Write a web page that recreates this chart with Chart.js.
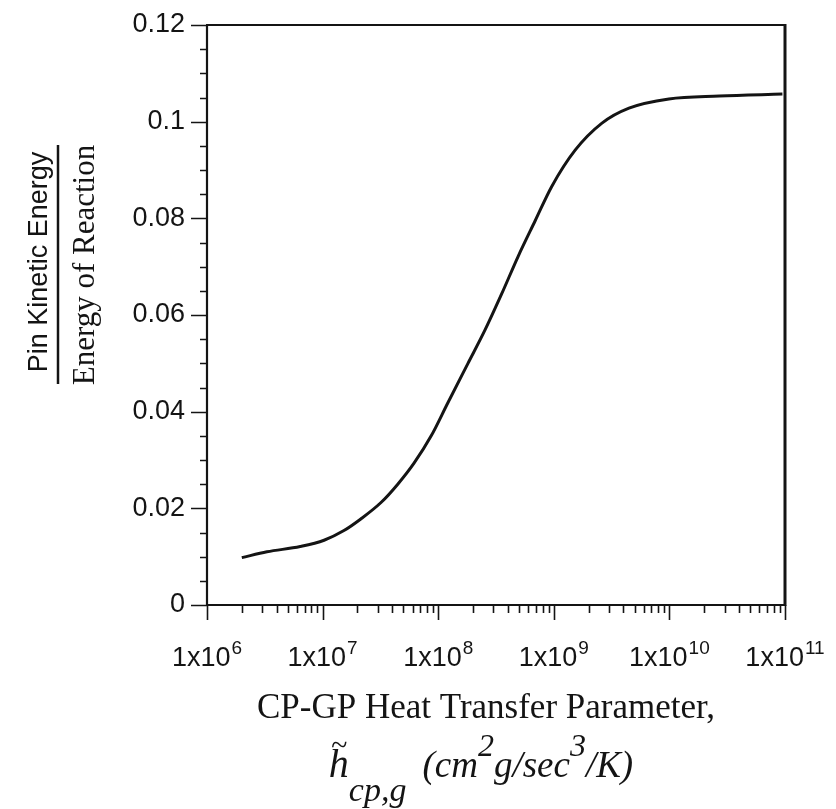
<!DOCTYPE html>
<html>
<head>
<meta charset="utf-8">
<script src="https://cdn.jsdelivr.net/npm/chart.js@4.4.1/dist/chart.umd.min.js"></script>
<style>
  html, body { margin: 0; padding: 0; background: #fff; }
  #wrap { width: 836px; height: 809px; position: relative; }
</style>
</head>
<body>
<div id="wrap"><canvas id="c"></canvas></div>
<script>
// ---- data ----
const xValues = [2.0e6, 3.3e6, 6.4e6, 1.03e7, 1.53e7, 2.14e7, 3.2e7, 4.47e7, 6.2e7, 8.7e7,
                 1.21e8, 1.81e8, 2.53e8, 3.53e8, 4.93e8, 6.9e8, 9.6e8, 1.53e9, 2.61e9, 4.47e9,
                 9.9e9, 2.7e10, 9.5e10];
const yValues = [0.0098, 0.0110, 0.0121, 0.0134, 0.0154, 0.0178, 0.0212, 0.0250, 0.0294, 0.0350,
                 0.0418, 0.0500, 0.0568, 0.0643, 0.0722, 0.0795, 0.0866, 0.0941, 0.0997, 0.1028,
                 0.1047, 0.1053, 0.1057];
const xTickExponents = [6, 7, 8, 9, 10, 11];
const xTickBase = "1x10";
const yMin = 0, yMax = 0.12, yStep = 0.02, yMinorStep = 0.005;
const xMin = 1e6, xMax = 1e11;
const yTitleTop = "Pin Kinetic Energy";
const yTitleBottom = "Energy of Reaction";
const xTitleLine1 = "CP-GP Heat Transfer Parameter,";

const SANS = '"Liberation Sans", Arial, Helvetica, sans-serif';
const SERIF = '"Liberation Serif", "Times New Roman", serif';
const INK = '#141414';

const points = xValues.map((x, i) => ({ x: x, y: yValues[i] }));

const decorPlugin = {
  id: 'decor',
  afterDraw(chart) {
    const ctx = chart.ctx;
    const a = chart.chartArea;
    const xs = chart.scales.x, ys = chart.scales.y;
    ctx.save();
    ctx.strokeStyle = INK;
    ctx.fillStyle = INK;
    ctx.lineCap = 'butt';

    // frame
    ctx.lineWidth = 2.2;
    ctx.beginPath();
    ctx.moveTo(a.left, a.top); ctx.lineTo(a.left, a.bottom);
    ctx.moveTo(a.left - 1, a.bottom); ctx.lineTo(a.right, a.bottom);
    ctx.moveTo(a.left - 1, a.top); ctx.lineTo(a.right, a.top);
    ctx.stroke();
    ctx.lineWidth = 3;
    ctx.beginPath();
    ctx.moveTo(a.right, a.top - 1); ctx.lineTo(a.right, a.bottom + 1);
    ctx.stroke();

    // y ticks (outside, left)
    ctx.lineWidth = 1.6;
    const nMinor = Math.round((yMax - yMin) / yMinorStep);
    const perMajor = Math.round(yStep / yMinorStep);
    ctx.beginPath();
    for (let i = 0; i <= nMinor; i++) {
      const v = yMin + i * yMinorStep;
      const py = Math.round(ys.getPixelForValue(v)) + 0.5;
      const len = (i % perMajor === 0) ? 16 : 7;
      ctx.moveTo(a.left - len, py); ctx.lineTo(a.left, py);
    }
    ctx.stroke();

    // x ticks (outside, below)
    ctx.beginPath();
    const lastE = xTickExponents[xTickExponents.length - 1];
    for (let d = xTickExponents[0]; d <= lastE; d++) {
      for (let m = 1; m <= 9; m++) {
        if (d === lastE && m > 1) break;
        const px = Math.round(xs.getPixelForValue(m * Math.pow(10, d))) + 0.5;
        const len = (m === 1) ? 15 : 8;
        ctx.moveTo(px, a.bottom); ctx.lineTo(px, a.bottom + len);
      }
    }
    ctx.stroke();

    // x tick labels with superscript exponent
    const baseFont = '27px ' + SANS;
    const supFont = '19px ' + SANS;
    const labelBaseline = a.bottom + 61;
    ctx.textBaseline = 'alphabetic';
    ctx.textAlign = 'left';
    xTickExponents.forEach(e => {
      const px = xs.getPixelForValue(Math.pow(10, e));
      ctx.font = baseFont;
      const wb = ctx.measureText(xTickBase).width;
      ctx.font = supFont;
      const we = ctx.measureText(String(e)).width;
      const start = px - (wb + we + 1) / 2;
      ctx.font = baseFont;
      ctx.fillText(xTickBase, start, labelBaseline);
      ctx.font = supFont;
      ctx.fillText(String(e), start + wb + 1, labelBaseline - 12);
    });

    // x title line 1
    ctx.font = '35px ' + SERIF;
    ctx.textAlign = 'center';
    ctx.fillText(xTitleLine1, 486, 718);

    // x title line 2 (italic math)
    ctx.textAlign = 'left';
    const it = (s) => 'italic ' + s + 'px ' + SERIF;
    const pieces = [
      { t: 'h', f: it(40), dy: 0, tilde: true },
      { t: 'cp,g', f: it(34), dy: 24, gap: 16 },
      { t: '(cm', f: it(37), dy: 0 },
      { t: '2', f: it(32), dy: -21 },
      { t: 'g/sec', f: it(37), dy: 0 },
      { t: '3', f: it(32), dy: -21 },
      { t: '/K)', f: it(37), dy: 0 }
    ];
    let total = 0;
    pieces.forEach(p => { ctx.font = p.f; p.w = ctx.measureText(p.t).width; total += p.w + (p.gap || 0); });
    let cx = 481 - total / 2;
    const base2 = 777;
    pieces.forEach(p => {
      ctx.font = p.f;
      ctx.fillText(p.t, cx, base2 + p.dy);
      if (p.tilde) {
        ctx.font = it(30);
        ctx.fillText('~', cx + 2, base2 - 22);
      }
      cx += p.w + (p.gap || 0);
    });

    // y title: fraction, rotated
    ctx.textAlign = 'center';
    ctx.save();
    ctx.translate(47, 262);
    ctx.rotate(-Math.PI / 2);
    ctx.font = '27px ' + SANS;
    ctx.fillText(yTitleTop, 0, 0);
    ctx.restore();

    ctx.lineWidth = 2.5;
    ctx.beginPath();
    ctx.moveTo(58, 145); ctx.lineTo(58, 384);
    ctx.stroke();

    ctx.save();
    ctx.translate(94, 265);
    ctx.rotate(-Math.PI / 2);
    ctx.font = '31px ' + SERIF;
    ctx.fillText(yTitleBottom, 0, 0);
    ctx.restore();

    ctx.restore();
  }
};

new Chart(document.getElementById('c'), {
  type: 'line',
  data: {
    datasets: [{
      data: points,
      borderColor: INK,
      borderWidth: 3,
      pointRadius: 0,
      fill: false,
      cubicInterpolationMode: 'monotone'
    }]
  },
  options: {
    responsive: true,
    maintainAspectRatio: false,
    animation: false,
    layout: { padding: { top: 25, right: 51, left: 0, bottom: 0 } },
    plugins: { legend: { display: false }, tooltip: { enabled: false } },
    scales: {
      x: {
        type: 'logarithmic',
        min: xMin, max: xMax,
        grid: { display: false },
        border: { display: false },
        ticks: { display: false },
        afterFit: (s) => { s.height = 204; s.paddingLeft = 0; s.paddingRight = 0; }
      },
      y: {
        type: 'linear',
        min: yMin, max: yMax,
        grid: { display: false },
        border: { display: false },
        ticks: {
          stepSize: yStep,
          padding: 14,
          color: INK,
          font: { family: SANS, size: 27 },
          callback: (v) => String(parseFloat(Number(v).toFixed(3)))
        },
        afterFit: (s) => { s.width = 207; s.paddingTop = 0; s.paddingBottom = 0; }
      }
    }
  },
  plugins: [decorPlugin]
});
</script>
</body>
</html>
